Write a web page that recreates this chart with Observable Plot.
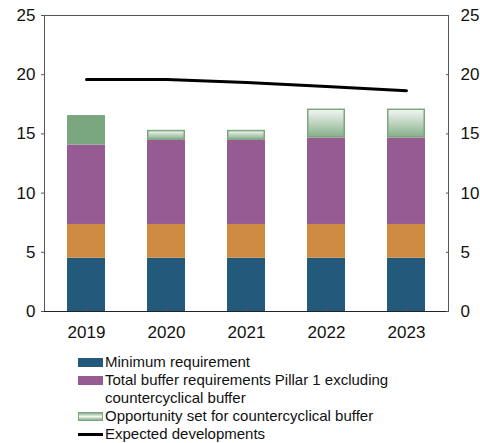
<!DOCTYPE html>
<html>
<head>
<meta charset="utf-8">
<script src="https://cdn.jsdelivr.net/npm/d3@7"></script>
<script src="https://cdn.jsdelivr.net/npm/@observablehq/plot@0.6"></script>
<style>
  html, body { margin: 0; padding: 0; background: #fff; }
  body { width: 480px; height: 443px; overflow: hidden; font-family: "Liberation Sans", Arial, sans-serif; }
  #legend { position: relative; margin-left: 78px; padding-top: 8px; font-size: 15px; line-height: 18px; color: #111; }
  .row { display: flex; align-items: flex-start; }
  .sw { width: 25px; height: 9px; margin-top: 5px; margin-right: 2px; flex: none; box-sizing: border-box; }
  .txt { width: 300px; }
</style>
</head>
<body>
<div id="chart"></div>
<div id="legend"></div>
<script>
const years = ["2019", "2020", "2021", "2022", "2023"];
const minimumRequirement = [4.5, 4.5, 4.5, 4.5, 4.5];
const otherRequirement = [2.85, 2.85, 2.85, 2.85, 2.85];
const bufferPillar1 = [6.7, 7.1, 7.1, 7.3, 7.3];
const countercyclical = [2.5, 0.85, 0.85, 2.45, 2.45];
const expected = [19.6, 19.6, 19.35, 19.0, 18.65];
const yTicks = [0, 5, 10, 15, 20, 25];

const colors = { min: "#235a7b", other: "#cd8a40", pillar: "#975b94", ccb: "#7aa77e", line: "#000" };

// Build stacked segments
const segments = [];
years.forEach((yr, i) => {
  let base = 0;
  const parts = [
    ["min", minimumRequirement[i]],
    ["other", otherRequirement[i]],
    ["pillar", bufferPillar1[i]],
    ["ccb", countercyclical[i]]
  ];
  parts.forEach(([k, v]) => {
    segments.push({ year: yr, key: k, y1: base, y2: base + v, idx: i });
    base += v;
  });
});
const lineData = years.map((yr, i) => ({ year: yr, value: expected[i] }));

const solidSegs = segments.filter(d => d.key !== "ccb" || d.idx === 0);
const gradSegs = segments.filter(d => d.key === "ccb" && d.idx !== 0);

const plot = Plot.plot({
  width: 480,
  height: 345,
  marginLeft: 44,
  marginRight: 32,
  marginTop: 15,
  marginBottom: 34,
  style: { fontFamily: "Liberation Sans, Arial, sans-serif", fontSize: "17px", color: "#111", background: "#fff" },
  x: { domain: years, paddingInner: 0.53, paddingOuter: 0.265, label: null },
  y: { domain: [0, 25], label: null },
  marks: [
    Plot.rectY(solidSegs, {
      x: "year", y1: "y1", y2: "y2",
      fill: d => d.key === "ccb" ? colors.ccb : colors[d.key]
    }),
    Plot.rectY(gradSegs, {
      x: "year", y1: "y1", y2: "y2",
      fill: "url(#ccbGrad)", stroke: colors.ccb, strokeWidth: 1.5, inset: 0.75
    }),
    Plot.line(lineData, { x: "year", y: "value", stroke: colors.line, strokeWidth: 3 }),
    Plot.frame({ stroke: "#555", strokeWidth: 1 }),
    Plot.ruleY([0], { stroke: "#222", strokeWidth: 1.2 }),
    Plot.axisY(yTicks, { anchor: "left", tickSize: 3, tickPadding: 6, label: null, stroke: "#555", fontSize: 17 }),
    Plot.axisY(yTicks, { anchor: "right", tickSize: -3, tickPadding: 15, label: null, stroke: "#555", fontSize: 17, textAnchor: "start" }),
    Plot.axisX({ anchor: "bottom", tickSize: -3, tickPadding: 17, label: null, stroke: "#555", fontSize: 17 })
  ]
});

// gradient definition
const ns = "http://www.w3.org/2000/svg";
const defs = document.createElementNS(ns, "defs");
const grad = document.createElementNS(ns, "linearGradient");
grad.setAttribute("id", "ccbGrad");
grad.setAttribute("x1", "0"); grad.setAttribute("y1", "0");
grad.setAttribute("x2", "0"); grad.setAttribute("y2", "1");
[["0%", "#f4f7f4"], ["100%", "#86b08a"]].forEach(([o, c]) => {
  const s = document.createElementNS(ns, "stop");
  s.setAttribute("offset", o); s.setAttribute("stop-color", c);
  grad.appendChild(s);
});
defs.appendChild(grad);
plot.insertBefore(defs, plot.firstChild);
document.getElementById("chart").appendChild(plot);

// legend
const legendItems = [
  { label: "Minimum requirement", type: "solid", color: colors.min },
  { label: "Total buffer requirements Pillar 1 excluding countercyclical buffer", type: "solid", color: colors.pillar },
  { label: "Opportunity set for countercyclical buffer", type: "grad", color: colors.ccb },
  { label: "Expected developments", type: "line", color: colors.line }
];
const legend = document.getElementById("legend");
legendItems.forEach(it => {
  const row = document.createElement("div");
  row.className = "row";
  const sw = document.createElement("div");
  sw.className = "sw";
  if (it.type === "solid") sw.style.background = it.color;
  else if (it.type === "grad") {
    sw.style.background = "linear-gradient(to bottom, #86b08a, #f4f7f4 50%, #86b08a)";
    sw.style.border = "1.5px solid " + it.color;
  } else {
    sw.style.height = "3px"; sw.style.marginTop = "8px"; sw.style.background = it.color;
  }
  const tx = document.createElement("div");
  tx.className = "txt";
  tx.textContent = it.label;
  row.appendChild(sw); row.appendChild(tx);
  legend.appendChild(row);
});
</script>
</body>
</html>
